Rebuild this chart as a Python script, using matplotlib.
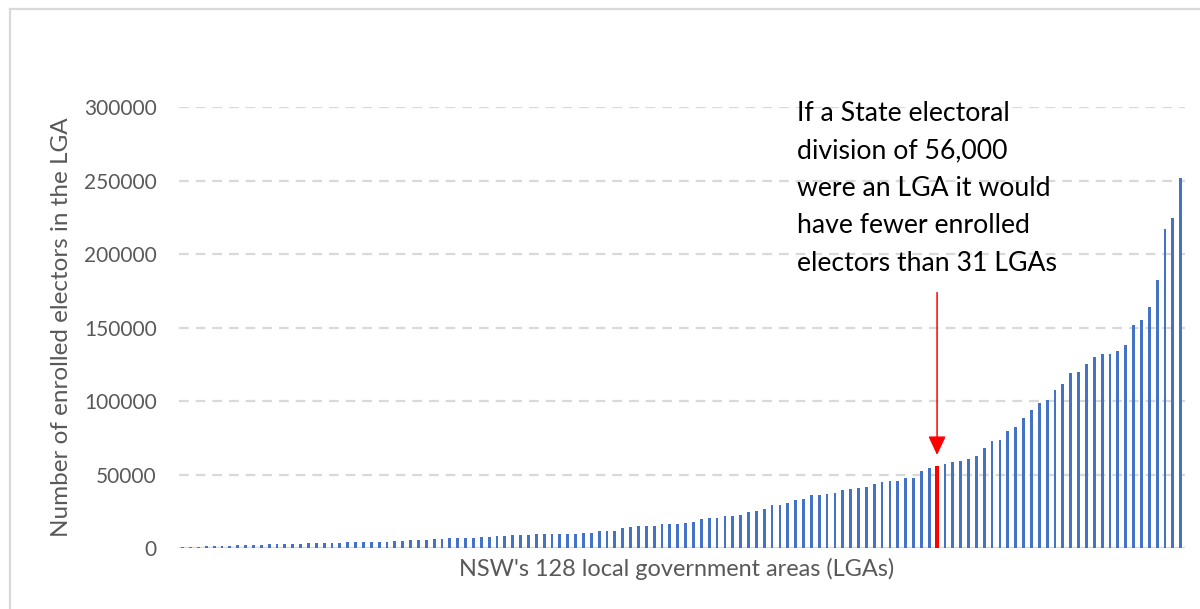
import numpy as np
import matplotlib
matplotlib.use("Agg")
import matplotlib.pyplot as plt
from matplotlib.lines import Line2D

plt.rcParams['font.family'] = ['Lato', 'DejaVu Sans']
plt.rcParams['lines.scale_dashes'] = False

# Enrolled electors per NSW LGA, sorted ascending
enrolled = [
    700, 700, 1100, 1600, 1600, 1800, 1800, 2000, 2300, 2300, 2500, 2700,
    2700, 2900, 2900, 3200, 3400, 3400, 3600, 3600, 3600, 4100, 4300, 4300,
    4300, 4300, 4300, 4800, 5000, 5400, 5700, 5900,
    6300, 6500, 6800, 7000, 7200, 7200, 7400, 7900, 8100, 8600, 8800, 9000,
    9200, 9500, 9900, 9900, 9900, 9900, 9900, 10600, 10600, 11500, 11700,
    11900, 13500, 14200, 15100, 15300, 15300, 16200,
    16500, 16700, 17000, 17600, 19900, 20400, 20600, 21700, 21900, 22600,
    24700, 25300, 26700, 29200, 29400, 30800, 32600, 33300, 36200, 36200,
    37100, 37300, 39400, 40500, 41200, 41600, 43900, 44800, 45700, 45700,
    47500, 48000, 52300, 54800,
    57400, 59000, 59400, 60800, 63000, 68000, 73000, 73500, 79800, 82300,
    88400, 94300, 99100, 101100, 107700, 112000, 119000, 119700, 125400,
    130200, 132000, 132000, 134200, 138300, 151900, 155100, 164400, 182500,
    217200, 224500, 251700,
]
division_size = 56000
larger_count = sum(v > division_size for v in enrolled)

y_ticks = [0, 50000, 100000, 150000, 200000, 250000, 300000]
x_label = "NSW's 128 local government areas (LGAs)"
y_label = "Number of enrolled electors in the LGA"
note = ("If a State electoral\ndivision of 56,000\nwere an LGA it would\n"
        f"have fewer enrolled\nelectors than {larger_count} LGAs")

# Slot the hypothetical division into its sorted position
div_pos = int(np.searchsorted(enrolled, division_size))
values = list(enrolled[:div_pos]) + [division_size] + list(enrolled[div_pos:])
n = len(values)
x = np.arange(n)

BLUE = '#4472C4'
RED = '#FF0000'
GRID = '#D9D9D9'
TXT = '#595959'

fig = plt.figure(figsize=(12, 6.09), dpi=100)
ax = fig.add_axes([178.8 / 1200, 60.7 / 609, (1184.6 - 178.8) / 1200, (548.3 - 107.3) / 609])

blue_x = [i for i in x if i != div_pos]
blue_v = [values[i] for i in blue_x]
ax.bar(blue_x, blue_v, width=0.36, color=BLUE, zorder=3)
ax.bar([div_pos], [division_size], width=0.42, color=RED, zorder=4)

ax.set_xlim(-0.5, n - 0.5)
ax.set_ylim(0, 300000)
ax.set_yticks(y_ticks)
ax.set_yticklabels([str(t) for t in y_ticks])
ax.set_xticks([])
ax.tick_params(axis='y', length=0, pad=16, labelsize=15, labelcolor=TXT)

for t in y_ticks[1:]:
    ax.axhline(t, color=GRID, lw=1.6, linestyle=(0, (7, 5)), zorder=1)
ax.axhline(0, color=GRID, lw=1.6, zorder=2)

for s in ax.spines.values():
    s.set_visible(False)

fig.text(62 / 1200, 1 - 327.5 / 609, y_label, rotation=90, ha='center',
         va='center', fontsize=17.5, color=TXT)
fig.text(677 / 1200, 1 - 569 / 609, x_label, ha='center', va='center',
         fontsize=16.9, color=TXT)

# Callout text and arrow to the division's bar
fig.text(797 / 1200, 1 - 101 / 609, note, ha='left', va='top',
         fontsize=19.2, color='black', linespacing=1.62)
ax.annotate('', xy=(div_pos, 63500), xytext=(div_pos, 174000),
            arrowprops=dict(arrowstyle='-|>,head_length=11.5,head_width=5.4',
                            mutation_scale=1, color=RED, lw=1.1,
                            shrinkA=0, shrinkB=0))

# Light frame around the chart area
fig.add_artist(Line2D([10 / 1200, 10 / 1200], [0, 1 - 8.5 / 609],
                      transform=fig.transFigure, color=GRID, lw=1.6))
fig.add_artist(Line2D([10 / 1200, 1], [1 - 8.5 / 609, 1 - 8.5 / 609],
                      transform=fig.transFigure, color=GRID, lw=1.6))

fig.savefig('out.png', dpi=100, facecolor='white')
